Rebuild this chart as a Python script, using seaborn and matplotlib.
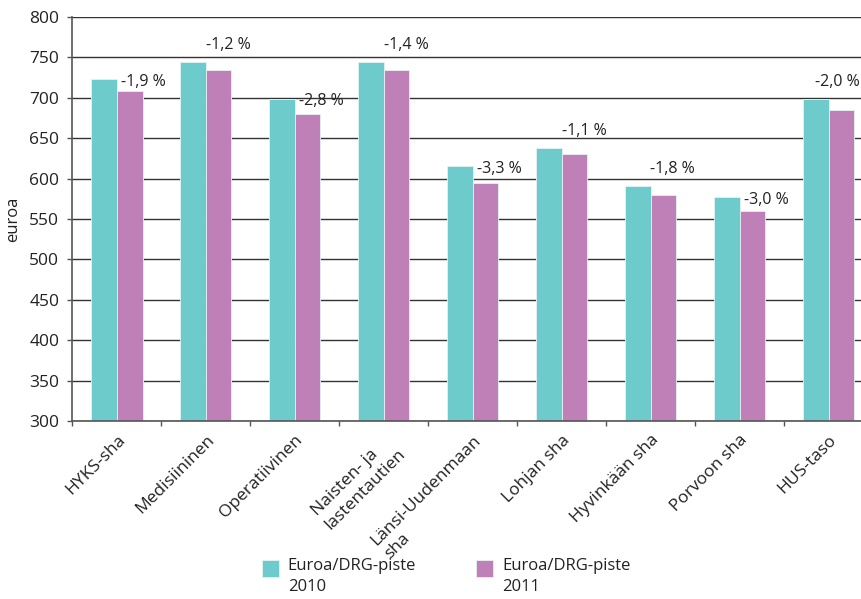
import matplotlib
matplotlib.use("Agg")
import matplotlib.pyplot as plt
import seaborn as sns
import pandas as pd
import numpy as np
from matplotlib.patches import Rectangle
from matplotlib.legend_handler import HandlerPatch

categories = ["HYKS-sha", "Medisiininen", "Operatiivinen", "Naisten- ja\nlastentautien",
              "Länsi-Uudenmaan\nsha", "Lohjan sha", "Hyvinkään sha", "Porvoon sha", "HUS-taso"]
values_2010 = [723, 744, 699, 744, 615, 638, 591, 577, 699]
values_2011 = [709, 735, 680, 734, 595, 631, 580, 560, 685]
change_labels = ["-1,9 %", "-1,2 %", "-2,8 %", "-1,4 %", "-3,3 %", "-1,1 %", "-1,8 %", "-3,0 %", "-2,0 %"]
series_names = ["Euroa/DRG-piste\n2010", "Euroa/DRG-piste\n2011"]
label_modes = ["side", "top", "side", "top", "side", "top", "top", "side", "top"]
yticks = [300, 350, 400, 450, 500, 550, 600, 650, 700, 750, 800]

df = pd.DataFrame({
    "cat": categories * 2,
    "value": values_2010 + values_2011,
    "series": [series_names[0]] * len(categories) + [series_names[1]] * len(categories),
})

sns.set_theme(style="white")
plt.rcParams["font.family"] = ["Open Sans", "DejaVu Sans"]

TXT = "#222222"
W, H = 862, 599
fig = plt.figure(figsize=(W / 100, H / 100), dpi=100)
ax = fig.add_axes([72.5 / W, 1 - 421 / H, (873 - 72.5) / W, (421 - 17) / H])

colors = ["#6ECBCB", "#BF80B8"]
sns.barplot(data=df, x="cat", y="value", hue="series", palette=colors, width=0.575,
            gap=0, ax=ax, edgecolor="#E6F2F2", linewidth=0.6, legend=True, saturation=1)

ax.set_ylim(300, 800)
ax.set_xlim(-0.5, len(categories) - 0.5)
ax.set_yticks(yticks)
ax.set_yticklabels([str(t) for t in yticks], fontsize=12.5, color=TXT)
ax.yaxis.grid(True, color="#333333", linewidth=1.0)
ax.set_axisbelow(True)
for s in ["top", "right"]:
    ax.spines[s].set_visible(False)
for s in ["left", "bottom"]:
    ax.spines[s].set_color("#555555")
    ax.spines[s].set_linewidth(1.2)
ax.tick_params(axis="y", which="major", left=True, length=3.6, width=1, color="#555555", pad=6)

# x: labels at centers, tick marks at group boundaries
ax.set_xticks(np.arange(len(categories)))
ax.set_xticklabels(categories, rotation=45, ha="right", va="top", rotation_mode="anchor",
                   fontsize=12.5, color=TXT, multialignment="left", linespacing=1.25)
ax.tick_params(axis="x", which="major", bottom=False, length=0, pad=8)
ax.set_xticks(np.arange(len(categories) + 1) - 0.5, minor=True)
ax.tick_params(axis="x", which="minor", bottom=True, length=3.6, width=1, color="#555555")

ax.set_xlabel("")
ax.set_ylabel("euroa", fontsize=12, color=TXT, labelpad=6)

# percentage labels
fig.canvas.draw()
renderer = fig.canvas.get_renderer()
for i, lab in enumerate(change_labels):
    if label_modes[i] == "side":
        t = ax.text(i + 0.05, values_2010[i] - 3, lab, ha="left", va="center", fontsize=11.5, color=TXT)
    else:
        t = ax.text(i + 0.25, values_2010[i] + 21, lab, ha="center", va="center",
                    fontsize=11.5, color=TXT)
    bb = t.get_window_extent(renderer)
    if bb.x1 > W - 2:
        t.set_ha("right")
        t.set_position((ax.transData.inverted().transform((W - 2, 0))[0], values_2010[i] + 21))

# legend
handles, labels = ax.get_legend_handles_labels()
ax.legend_.remove()

def make_patch(legend, orig_handle, xdescent, ydescent, width, height, fontsize):
    ph = 17 / 100 * 72  # patch height in points
    up = 4 / 100 * 72
    return Rectangle((-xdescent, -ydescent + height - ph + up), width, ph)

leg = fig.legend(handles, labels, loc="upper left", bbox_to_anchor=(262 / W, 1 - 558 / H),
                 ncol=2, frameon=False, fontsize=12, handlelength=1.0, handleheight=2.2,
                 handletextpad=0.55, columnspacing=3.6, borderpad=0, borderaxespad=0,
                 handler_map={matplotlib.patches.Rectangle: HandlerPatch(patch_func=make_patch)})
for t in leg.get_texts():
    t.set_color(TXT)
    t.set_linespacing(1.45)

fig.savefig("out.png", dpi=100)
